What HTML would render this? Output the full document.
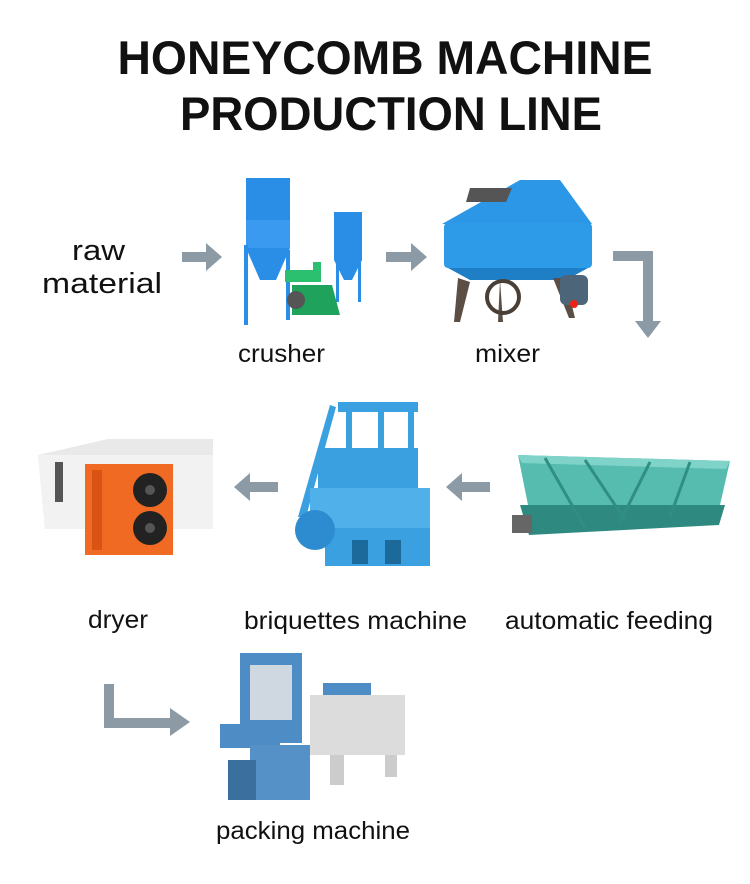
<!DOCTYPE html>
<html><head><meta charset="utf-8"><style>
body{margin:0;background:#fff;width:750px;height:884px;overflow:hidden}
svg{display:block}
text{font-family:"Liberation Sans","DejaVu Sans",sans-serif;fill:#111}
</style></head><body>
<svg width="750" height="884" viewBox="0 0 750 884">
<text x="385" y="74" font-size="47" font-weight="bold" text-anchor="middle" textLength="535" lengthAdjust="spacingAndGlyphs">HONEYCOMB MACHINE</text>
<text x="391" y="130" font-size="47" font-weight="bold" text-anchor="middle" textLength="422" lengthAdjust="spacingAndGlyphs">PRODUCTION LINE</text>
<g font-size="29">
<text x="72" y="260" textLength="53" lengthAdjust="spacingAndGlyphs">raw</text>
<text x="42" y="293" textLength="120" lengthAdjust="spacingAndGlyphs">material</text>
</g>
<g font-size="25">
<text x="238" y="362" textLength="87" lengthAdjust="spacingAndGlyphs">crusher</text>
<text x="475" y="362" textLength="65" lengthAdjust="spacingAndGlyphs">mixer</text>
<text x="88" y="628" textLength="60" lengthAdjust="spacingAndGlyphs">dryer</text>
<text x="244" y="629" textLength="223" lengthAdjust="spacingAndGlyphs">briquettes machine</text>
<text x="505" y="629" textLength="208" lengthAdjust="spacingAndGlyphs">automatic feeding</text>
<text x="216" y="839" textLength="194" lengthAdjust="spacingAndGlyphs">packing machine</text>
</g>
<g fill="#8b9aa4">
<path d="M182 252h24v-9l16 14-16 14v-9h-24z"/>
<path d="M386 252h25v-9l16 14-16 14v-9h-25z"/>
<path d="M613 251h40v70h8l-13 17-13-17h8v-60h-30z"/>
<path d="M278 482h-28v-9l-16 14 16 14v-9h28z"/>
<path d="M490 482h-28v-9l-16 14 16 14v-9h28z"/>
<path d="M104 684h10v34h56v-10l20 14-20 14v-8h-66z"/>
</g>
<!-- crusher -->
<g fill="#2a8ee6">
<rect x="246" y="178" width="44" height="64"/>
<rect x="246" y="220" width="44" height="28" fill="#3a9aef"/>
<path d="M246 248h44l-14 32h-16z"/>
<rect x="244" y="245" width="4" height="80"/><rect x="286" y="250" width="4" height="70"/>
<rect x="334" y="212" width="28" height="48"/>
<path d="M334 260h28l-10 20h-8z"/>
<rect x="336" y="260" width="3" height="42"/><rect x="358" y="260" width="3" height="42"/>
</g>
<path d="M285 270h28v-8h8v20h-36z" fill="#2bbf70"/>
<path d="M292 285h40l8 30h-48z" fill="#1fa35c"/>
<circle cx="296" cy="300" r="9" fill="#555"/>
<!-- mixer -->
<path d="M520 180h40l32 44h-150z" fill="#2b97e6"/>
<path d="M470 188h42l-6 14h-40z" fill="#555"/>
<rect x="444" y="223" width="148" height="45" rx="4" fill="#2e9be9"/>
<path d="M448 268h140l-22 12h-96z" fill="#1e7fc6"/>
<path d="M458 278l-4 44h6l10-40zM565 278l10 40h-6l-16-40zM500 280l-2 42h5z" fill="#5b4e44"/>
<circle cx="503" cy="297" r="16" fill="none" stroke="#4a3f36" stroke-width="4"/>
<rect x="560" y="275" width="28" height="30" rx="6" fill="#4c6578"/>
<circle cx="574" cy="304" r="4" fill="#e21"/>
<!-- dryer -->
<path d="M38 455l70-16h105v90H45z" fill="#e9e9e9"/>
<path d="M38 455h175v74H45z" fill="#f2f2f2"/>
<rect x="55" y="462" width="8" height="40" fill="#555"/>
<rect x="85" y="464" width="88" height="91" fill="#f06a24"/>
<rect x="92" y="470" width="10" height="80" fill="#d95314"/>
<circle cx="150" cy="490" r="17" fill="#222"/><circle cx="150" cy="528" r="17" fill="#222"/>
<circle cx="150" cy="490" r="5" fill="#555"/><circle cx="150" cy="528" r="5" fill="#555"/>
<!-- briquette -->
<g fill="#3aa0e0">
<rect x="338" y="402" width="80" height="10"/>
<rect x="346" y="410" width="6" height="50"/><rect x="378" y="410" width="6" height="50"/><rect x="408" y="410" width="6" height="50"/>
<path d="M330 405l6 2-30 110h-8z"/>
<rect x="318" y="448" width="100" height="40"/>
<rect x="310" y="488" width="120" height="40" fill="#4fb0ea"/>
<rect x="325" y="528" width="105" height="38"/>
<circle cx="315" cy="530" r="20" fill="#2d8cd0"/>
</g>
<rect x="352" y="540" width="16" height="24" fill="#1c6a9c"/><rect x="385" y="540" width="16" height="24" fill="#1c6a9c"/>
<!-- feeder -->
<path d="M518 455l212 6-10 44-190 10z" fill="#57bcb0"/>
<path d="M518 455l212 6-4 8-204-6z" fill="#7fd3c9"/>
<path d="M520 505h205l-6 20-190 10z" fill="#2e8a80"/>
<path d="M512 515h20v18h-20z" fill="#666"/>
<g stroke="#2f8f84" stroke-width="3"><path d="M545 458l40 70M585 460l40 60M650 462l-30 60M690 462l-20 55"/></g>
<!-- packing -->
<rect x="240" y="653" width="62" height="90" fill="#4d8cc4"/>
<rect x="250" y="665" width="42" height="55" fill="#cfd8e0"/>
<rect x="220" y="724" width="60" height="24" fill="#4d8cc4"/>
<rect x="250" y="745" width="60" height="55" fill="#5591c6"/>
<rect x="228" y="760" width="28" height="40" fill="#3b6f9e"/>
<rect x="310" y="695" width="95" height="60" fill="#dcdcdc"/>
<rect x="323" y="683" width="48" height="12" fill="#4d8cc4"/>
<rect x="330" y="755" width="14" height="30" fill="#ccc"/><rect x="385" y="755" width="12" height="22" fill="#ccc"/>
</svg>
</body></html>
